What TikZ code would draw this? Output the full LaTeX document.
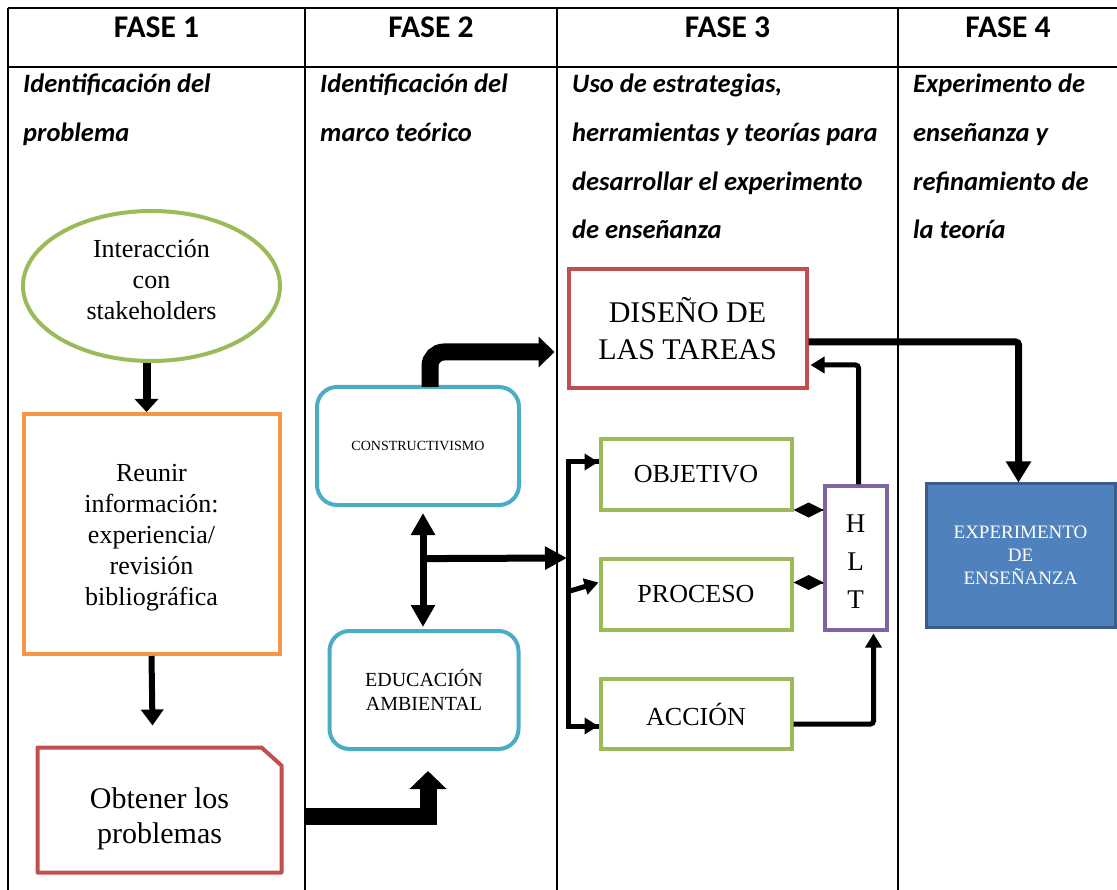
\documentclass[tikz,border=0pt]{standalone}
\usepackage{fontspec}
\setmainfont{Liberation Serif}
\newfontfamily\carlitofont{Carlito}
\usetikzlibrary{arrows.meta,shapes.geometric,shapes.misc,calc}
\definecolor{cgreen}{HTML}{9BBB59}
\definecolor{corange}{HTML}{F79646}
\definecolor{cred}{HTML}{C0504D}
\definecolor{ccyan}{HTML}{4BACC6}
\definecolor{cpurple}{HTML}{8064A2}
\definecolor{cblue}{HTML}{4F81BD}
\definecolor{cbluedark}{HTML}{385D8A}
\begin{document}
\begin{tikzpicture}[x=1pt,y=-1pt,
  tline/.style={line width=2.4pt,black},
  head/.style={font=\carlitofont\bfseries\fontsize{31.5}{33}\selectfont,anchor=base},
  sub/.style={font=\carlitofont\bfseries\itshape\fontsize{26.5}{28}\selectfont,anchor=base west,inner sep=0},
  shp/.style={line width=4pt,align=center,inner sep=0,font=\fontsize{26}{31}\selectfont},
  txt/.style={align=center,inner sep=0,font=\fontsize{26}{31}\selectfont},
  conn/.style={line width=5pt,-{Triangle[length=14pt,width=16pt]}},
  big/.style={line width=17pt},
]
\useasboundingbox (0,0) rectangle (1117,890);
% table
\draw[tline] (8,8) -- (1117,8);
\draw[tline] (8,67) -- (1117,67);
\draw[tline] (8,8) -- (8,890);
\draw[tline] (305,8) -- (305,890);
\draw[tline] (557,8) -- (557,890);
\draw[tline] (898,8) -- (898,890);
% headers
\node[head] (h1) at (156.5,38) {FASE 1};
\node[head] (h2) at (431,38) {FASE 2};
\node[head] (h3) at (727.5,38) {FASE 3};
\node[head] (h4) at (1008,38) {FASE 4};
% subtitles
\node[sub] (s1a) at (23,93) {Identificación del};
\node[sub] (s1b) at (23,142) {problema};
\node[sub] (s2a) at (320,93) {Identificación del};
\node[sub] (s2b) at (320,142) {marco teórico};
\node[sub] (s3a) at (572,93) {Uso de estrategias,};
\node[sub] (s3b) at (572,142) {herramientas y teorías para};
\node[sub] (s3c) at (572,191) {desarrollar el experimento};
\node[sub] (s3d) at (572,239) {de enseñanza};
\node[sub] (s4a) at (913,93) {Experimento de};
\node[sub] (s4b) at (913,142) {enseñanza y};
\node[sub] (s4c) at (913,191) {refinamiento de};
\node[sub] (s4d) at (913,239) {la teoría};
% phase 1
\node[shp,draw=cgreen,ellipse,minimum width=257pt,minimum height=150pt] (ell) at (151.5,286) {};
\node[txt] (ellt) at ($(ell.center)+(0,-6)$) {Interacción\\con\\stakeholders};
\node[shp,draw=corange,minimum width=256pt,minimum height=240pt] (reu) at (151.5,534) {};
\node[txt] (reut) at ($(reu.center)+(0,4)$) {Reunir\\información:\\experiencia/\\revisión\\bibliográfica};
\node[shp,minimum width=240pt,minimum height=121pt] (obt) at (159.5,810) {};
\draw[cred,line width=4pt,line join=round] (obt.south west) -- (obt.north west) -- ($(obt.north east)+(-20,0)$) -- ($(obt.north east)+(0,18)$) -- (obt.south east) -- cycle;
\node[txt,font=\fontsize{30}{35}\selectfont] (obtt) at ($(obt.center)+(0,9)$) {Obtener los\\problemas};
% phase 2
\node[shp,draw=ccyan,rounded corners=20pt,minimum width=202pt,minimum height=118pt,font=\fontsize{14}{17}\selectfont] (con) at (418,446) {CONSTRUCTIVISMO};
\node[shp,draw=ccyan,rounded corners=20pt,minimum width=189pt,minimum height=118pt,font=\fontsize{20}{24}\selectfont] (edu) at (424,690) {EDUCACIÓN\\AMBIENTAL};
% phase 3
\node[shp,draw=cred,minimum width=238pt,minimum height=119pt,font=\fontsize{30}{37}\selectfont] (dis) at (687.5,329) {DISEÑO DE\\LAS TAREAS};
\node[shp,draw=cgreen,minimum width=191pt,minimum height=71pt] (obj) at (696,474.5) {OBJETIVO};
\node[shp,draw=cgreen,minimum width=191pt,minimum height=71pt] (pro) at (696,594.5) {PROCESO};
\node[shp,draw=cgreen,minimum width=191pt,minimum height=70pt] (acc) at (696,714) {ACCIÓN};
\node[shp,draw=cpurple,minimum width=62pt,minimum height=143pt] (hlt) at (855.5,558) {};
\node[txt,font=\fontsize{27}{38}\selectfont] (hltt) at ($(hlt.center)+(0,4)$) {H\\L\\T};
% phase 4
\node[draw=cbluedark,fill=cblue,line width=3pt,minimum width=189pt,minimum height=143pt,align=center,inner sep=0,text=white,font=\fontsize{19}{23}\selectfont] (exp) at (1020.5,555.5) {EXPERIMENTO\\DE\\ENSEÑANZA};
% connectors phase 1
\draw[line width=8pt,-{Triangle[length=13pt,width=23pt]}] ($(ell.south)+(-5,0)$) -- ($(reu.north)+(-5,0)$);
\draw[line width=6pt,-{Triangle[length=16pt,width=22pt]}] (reu.south) -- ($(obt.north)+(-7,-22)$);
\coordinate (b1) at ($(obt.east)+(24,6)$);
\coordinate (b2) at ($(edu.south)+(4,20)$);
\draw[big,-{Triangle[length=18pt,width=36pt]}] (b1) -| (b2);
% phase 2 connectors
\coordinate (c1) at ($(con.north)+(12,2)$);
\coordinate (c2) at ($(dis.west)+(-12,23)$);
\draw[big,rounded corners=14pt,-{Triangle[length=16pt,width=30pt]}] (c1) |- (c2);
\coordinate (d1) at ($(con.south)+(5,6)$);
\coordinate (d2) at ($(edu.north)+(-1,-2)$);
\draw[line width=7pt,{Triangle[length=22pt,width=23pt]}-{Triangle[length=22pt,width=23pt]}] (d1) -- (d2);
\coordinate (m1) at ($(d1)!0.4!(d2)$);
\coordinate (br) at (567,558);
\draw[line width=7pt,-{Triangle[length=22pt,width=22pt]}] (m1) -- (br);
% bracket
\coordinate (bt) at (568,462);
\coordinate (bb) at (568,726);
\draw[line width=5pt,line join=miter] (obj.west |- bt) -- (bt) -- (bb) -- (acc.west |- bb);
\draw[conn] (bt) -- (obj.west |- bt);
\draw[conn] (570,591) -- ($(pro.west)+(0,-12)$);
\draw[conn] (bb) -- (acc.west |- bb);
% diamonds
\draw[line width=2pt,{Diamond[length=30pt,width=15pt]}-] ($(obj.south east)+(0,-2)$) -- (hlt.west |- {$(obj.south east)+(0,-2)$});
\draw[line width=2pt,{Diamond[length=30pt,width=15pt]}-] ($(pro.east)+(0,-12)$) -- (hlt.west |- {$(pro.east)+(0,-12)$});
% accion -> hlt
\coordinate (a1) at ($(acc.east)+(0,10)$);
\draw[conn,rounded corners=3pt] (a1) -| ($(hlt.south)+(18,2)$);
% hlt -> diseno
\coordinate (h1c) at ($(hlt.north)+(3,0)$);
\coordinate (h2c) at ($(dis.east)+(2,36)$);
\draw[conn,rounded corners=3pt] (h1c) |- (h2c);
% diseno -> experimento
\coordinate (e1) at ($(dis.east)+(0,13)$);
\draw[line width=7pt,rounded corners=3pt,-{Triangle[length=21pt,width=24pt]}] (e1) -| ($(exp.north)+(-2,0)$);
\end{tikzpicture}
\end{document}
